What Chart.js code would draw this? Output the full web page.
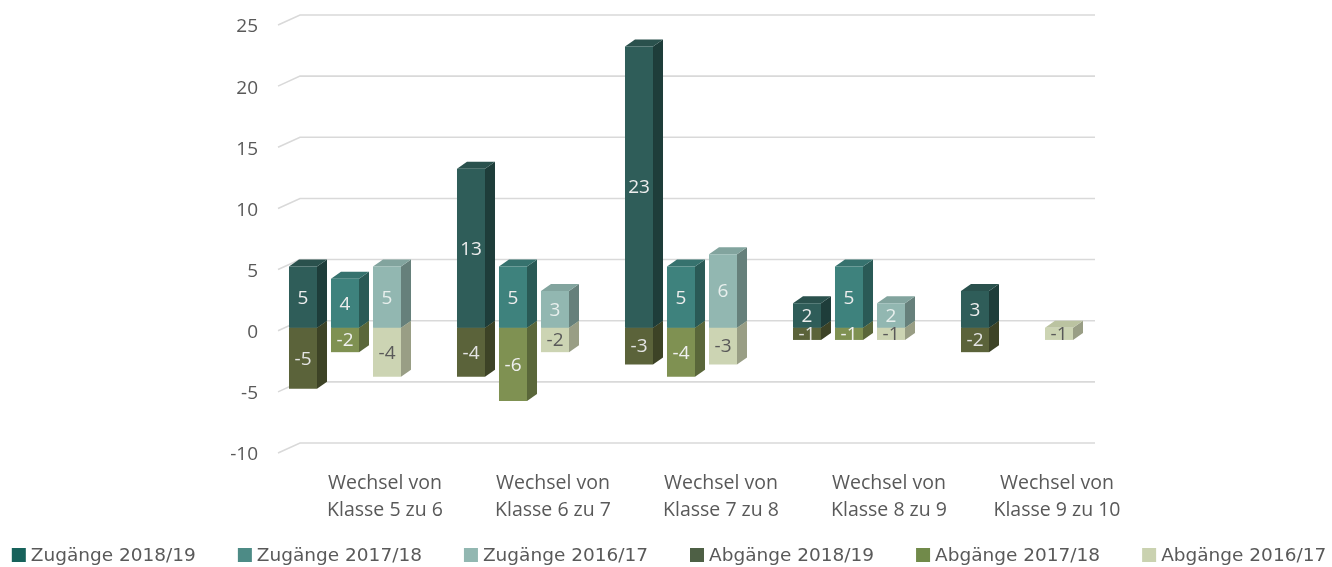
<!DOCTYPE html>
<html lang="de">
<head>
<meta charset="utf-8">
<title>Zugänge und Abgänge</title>
<script src="https://cdn.jsdelivr.net/npm/chart.js@4/dist/chart.umd.min.js"></script>
<style>
  html, body { margin: 0; padding: 0; background: #ffffff; }
  #wrap { width: 1332px; height: 567px; }
</style>
</head>
<body>
<div id="wrap"><canvas id="chart" width="1332" height="567"></canvas></div>
<script>
// ============================================
// DATA
// ============================================
const categories = [
  ['Wechsel von', 'Klasse 5 zu 6'],
  ['Wechsel von', 'Klasse 6 zu 7'],
  ['Wechsel von', 'Klasse 7 zu 8'],
  ['Wechsel von', 'Klasse 8 zu 9'],
  ['Wechsel von', 'Klasse 9 zu 10']
];

const zugaenge1819 = [5, 13, 23, 2, 3];
const zugaenge1718 = [4, 5, 5, 5, null];
const zugaenge1617 = [5, 3, 6, 2, null];
const abgaenge1819 = [-5, -4, -3, -1, -2];
const abgaenge1718 = [-2, -6, -4, -1, null];
const abgaenge1617 = [-4, -2, -3, -1, -1];

const yTicks = [-10, -5, 0, 5, 10, 15, 20, 25];

// ============================================
// STYLE
// ============================================
const FONT = "'Open Sans', sans-serif";
const TEXT_GREY = '#595959';
const DEPTH_X = 10;
const DEPTH_Y = -7;

// front / side / top face colours, legend swatch, value label colour
const seriesStyle = [
  { front: '#2F5D59', side: '#1E3D3A', top: '#2A514D', legend: '#17625B', label: '#EDEDED' },
  { front: '#3E827D', side: '#2A5A56', top: '#36726E', legend: '#4D8B86', label: '#EDEDED' },
  { front: '#92B7B1', side: '#66807B', top: '#82A49E', legend: '#92B7B1', label: '#E8EFED' },
  { front: '#5B633A', side: '#3D4326', top: '#505733', legend: '#4E6045', label: '#E4E4E4' },
  { front: '#7F9152', side: '#5A673A', top: '#728349', legend: '#718A4A', label: '#F0F0F0' },
  { front: '#CCD4B3', side: '#999E85', top: '#BBC3A1', legend: '#CAD2B0', label: '#595959' }
];

function makeDataset(label, data, stack, idx) {
  return {
    label: label,
    data: data,
    stack: stack,
    backgroundColor: seriesStyle[idx].front,
    borderWidth: 0,
    categoryPercentage: 0.75,
    barPercentage: 0.667
  };
}

// ============================================
// 3D FACES + BACK GRIDLINES
// ============================================
const pseudo3d = {
  id: 'pseudo3d',
  beforeDatasetsDraw(chart) {
    const ctx = chart.ctx;
    const area = chart.chartArea;
    const yScale = chart.scales.y;

    // back wall gridlines with a short floor edge on the left
    ctx.save();
    ctx.strokeStyle = '#D9D9D9';
    ctx.lineWidth = 1.6;
    yTicks.forEach(v => {
      const y = yScale.getPixelForValue(v);
      ctx.beginPath();
      ctx.moveTo(area.left + 17, y + 3);
      ctx.lineTo(area.left + 39, y - 7);
      ctx.lineTo(area.right - 6, y - 7);
      ctx.stroke();
    });
    ctx.restore();

    // negative parts first so the positive ones sit on top
    const order = [3, 4, 5, 0, 1, 2];
    order.forEach(di => {
      const meta = chart.getDatasetMeta(di);
      const style = seriesStyle[di];
      meta.data.forEach((bar, i) => {
        const v = chart.data.datasets[di].data[i];
        if (v === null || v === 0) return;
        const p = bar.getProps(['x', 'y', 'base', 'width'], true);
        const left = p.x - p.width / 2;
        const right = p.x + p.width / 2;
        const top = Math.min(p.y, p.base);
        const bottom = Math.max(p.y, p.base);

        ctx.save();
        ctx.fillStyle = style.side;
        ctx.beginPath();
        ctx.moveTo(right, top);
        ctx.lineTo(right + DEPTH_X, top + DEPTH_Y);
        ctx.lineTo(right + DEPTH_X, bottom + DEPTH_Y);
        ctx.lineTo(right, bottom);
        ctx.closePath();
        ctx.fill();

        ctx.fillStyle = style.top;
        ctx.beginPath();
        ctx.moveTo(left, top);
        ctx.lineTo(left + DEPTH_X, top + DEPTH_Y);
        ctx.lineTo(right + DEPTH_X, top + DEPTH_Y);
        ctx.lineTo(right, top);
        ctx.closePath();
        ctx.fill();
        ctx.restore();
      });
    });
  },
  afterDatasetsDraw(chart) {
    const ctx = chart.ctx;
    ctx.save();
    ctx.font = '19px ' + FONT;
    ctx.textAlign = 'center';
    ctx.textBaseline = 'middle';
    chart.data.datasets.forEach((ds, di) => {
      const meta = chart.getDatasetMeta(di);
      meta.data.forEach((bar, i) => {
        const v = ds.data[i];
        if (v === null || v === 0) return;
        const p = bar.getProps(['x', 'y', 'base'], true);
        ctx.fillStyle = seriesStyle[di].label;
        ctx.fillText(String(v), p.x, (p.y + p.base) / 2 + 1);
      });
    });
    ctx.restore();
  }
};

// ============================================
// LEGEND (drawn under the axis labels)
// ============================================
const bottomLegend = {
  id: 'bottomLegend',
  afterDraw(chart) {
    const ctx = chart.ctx;
    const box = 14;
    const boxGap = 5;
    const itemGap = 42;
    const yMid = 555;
    ctx.save();
    ctx.font = '18.5px "DejaVu Sans", sans-serif';
    ctx.textBaseline = 'middle';
    const items = chart.data.datasets.map((ds, di) => ({
      text: ds.label,
      color: seriesStyle[di].legend,
      w: box + boxGap + ctx.measureText(ds.label).width
    }));
    const total = items.reduce((s, it) => s + it.w, 0) + itemGap * (items.length - 1);
    let x = (chart.width - total) / 2 + 3;
    items.forEach(it => {
      ctx.fillStyle = it.color;
      ctx.fillRect(x, yMid - box / 2, box, box);
      ctx.fillStyle = TEXT_GREY;
      ctx.fillText(it.text, x + box + boxGap, yMid + 1);
      x += it.w + itemGap;
    });
    ctx.restore();
  }
};

// ============================================
// CHART
// ============================================
new Chart(document.getElementById('chart'), {
  type: 'bar',
  data: {
    labels: categories,
    datasets: [
      makeDataset('Zugänge 2018/19', zugaenge1819, 's1819', 0),
      makeDataset('Zugänge 2017/18', zugaenge1718, 's1718', 1),
      makeDataset('Zugänge 2016/17', zugaenge1617, 's1617', 2),
      makeDataset('Abgänge 2018/19', abgaenge1819, 's1819', 3),
      makeDataset('Abgänge 2017/18', abgaenge1718, 's1718', 4),
      makeDataset('Abgänge 2016/17', abgaenge1617, 's1617', 5)
    ]
  },
  options: {
    responsive: false,
    animation: false,
    layout: { padding: { top: 22, left: 0, right: 231, bottom: 0 } },
    plugins: {
      legend: { display: false },
      tooltip: { enabled: false }
    },
    scales: {
      x: {
        stacked: true,
        grid: { display: false, drawTicks: false },
        border: { display: false },
        ticks: {
          color: TEXT_GREY,
          font: { family: FONT, size: 19.5, lineHeight: 1.38 },
          padding: 20,
          labelOffset: 40,
          maxRotation: 0
        },
        afterFit(scale) { scale.height = 117; }
      },
      y: {
        stacked: true,
        min: -10,
        max: 25,
        grid: { display: false, drawTicks: false },
        border: { display: false },
        ticks: {
          stepSize: 5,
          color: TEXT_GREY,
          font: { family: FONT, size: 19 },
          padding: 3,
          labelOffset: 5
        },
        afterFit(scale) { scale.width = 261; }
      }
    }
  },
  plugins: [pseudo3d, bottomLegend]
});
</script>
</body>
</html>
